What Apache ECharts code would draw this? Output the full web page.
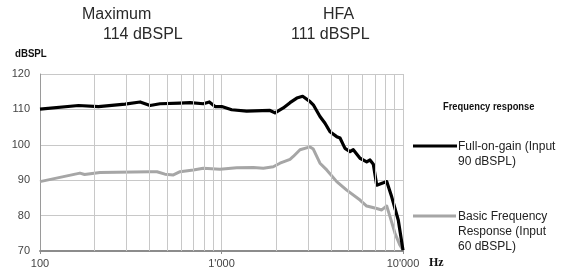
<!DOCTYPE html>
<html>
<head>
<meta charset="utf-8">
<script src="https://cdn.jsdelivr.net/npm/echarts@6/dist/echarts.min.js"></script>
<style>
  html, body { margin: 0; padding: 0; background: #fff; }
  #chart { width: 565px; height: 272px; }
</style>
</head>
<body>
<div id="chart"></div>
<script>
// Full-on-gain (Input 90 dBSPL)
const fullOnGainHz = [100, 163, 210, 294, 356, 404, 458, 590, 671, 794, 857, 921, 1003, 1138, 1376, 1850, 1971, 2190, 2385, 2600, 2800, 3074, 3204, 3488, 3718, 3961, 4313, 4497, 4791, 5105, 5323, 5797, 6310, 6579, 6862, 7165, 8135, 8299, 8663, 9035, 9421, 10000]
const fullOnGainDb = [110.1, 111.1, 110.8, 111.5, 112.1, 111.1, 111.6, 111.8, 111.9, 111.6, 112.1, 110.8, 110.8, 109.9, 109.5, 109.7, 109.0, 110.4, 111.9, 113.2, 113.7, 112.2, 111.3, 108.0, 106.1, 103.7, 102.3, 101.9, 99.0, 98.1, 98.6, 96.2, 95.2, 95.7, 94.5, 88.6, 89.6, 90.1, 85.3, 82.0, 78.7, 70.2]

// Basic Frequency Response (Input 60 dBSPL)
const basicHz = [100, 166, 176, 214, 404, 441, 488, 543, 591, 699, 794, 981, 1212, 1497, 1700, 1929, 2100, 2385, 2486, 2707, 3074, 3204, 3488, 3799, 4313, 4896, 5797, 6310, 7165, 7633, 8135, 8480, 9035, 9627, 10000]
const basicDb = [89.6, 92.0, 91.6, 92.2, 92.4, 92.4, 91.7, 91.5, 92.4, 92.9, 93.4, 93.1, 93.5, 93.6, 93.4, 93.8, 94.8, 95.9, 96.7, 98.6, 99.4, 98.8, 94.8, 92.9, 89.6, 87.2, 84.4, 82.7, 82.0, 81.6, 82.7, 79.7, 75.0, 71.6, 70.2]

// minor frequency grid lines
const minorHz = [200, 300, 400, 500, 600, 700, 800, 900, 2000, 3000, 4000, 5000, 6000, 7000, 8000, 9000]

const seriesNames = ['Full-on-gain (Input\n90 dBSPL)', 'Basic Frequency\nResponse (Input\n60 dBSPL)']
const headLabels = ['Maximum', '114 dBSPL', 'HFA', '111 dBSPL']

const pairs = (xs, ys) => xs.map((x, i) => [x, ys[i]])
const fmtHz = v => String(v).replace(/\B(?=(\d{3})+(?!\d))/g, "'")

const gridColor = '#c8c8c8'
const sans = 'Liberation Sans, Arial, sans-serif'

let myChart = echarts.init(document.getElementById('chart'), null, { renderer: 'canvas' })
let option = {
    animation: false,
    grid: { left: 40, right: 162, top: 74, bottom: 21 },
    xAxis: {
        type: 'log',
        logBase: 10,
        min: 100,
        max: 10000,
        axisLine: { lineStyle: { color: '#8c8c8c', width: 2 } },
        axisTick: { show: true, length: 3, lineStyle: { color: '#8c8c8c' } },
        splitLine: { show: true, lineStyle: { color: gridColor, width: 1 } },
        minorTick: { show: false },
        axisLabel: {
            margin: 7,
            color: '#444',
            fontFamily: sans,
            fontSize: 11,
            formatter: fmtHz
        }
    },
    yAxis: {
        type: 'value',
        min: 70,
        max: 120,
        interval: 10,
        axisLine: { show: true, lineStyle: { color: '#9a9a9a', width: 1 } },
        axisTick: { show: false },
        splitLine: { show: true, lineStyle: { color: gridColor, width: 1 } },
        axisLabel: { margin: 10, color: '#444', fontFamily: sans, fontSize: 11 }
    },
    series: [
        {
            name: 'grid',
            type: 'line',
            data: [],
            z: 1,
            silent: true,
            markLine: {
                silent: true,
                symbol: 'none',
                label: { show: false },
                lineStyle: { color: gridColor, width: 1, type: 'solid' },
                emphasis: { disabled: true },
                data: minorHz.map(v => ({ xAxis: v }))
            }
        },
        {
            name: seriesNames[1],
            type: 'line',
            z: 3,
            symbol: 'none',
            lineStyle: { color: '#a6a6a6', width: 3, join: 'round' },
            data: pairs(basicHz, basicDb)
        },
        {
            name: seriesNames[0],
            type: 'line',
            z: 4,
            symbol: 'none',
            lineStyle: { color: '#000', width: 3.2, join: 'round' },
            data: pairs(fullOnGainHz, fullOnGainDb)
        }
    ],
    graphic: [
        { type: 'text', left: 82, top: 7, style: { text: headLabels[0], font: '16px ' + sans, fill: '#2a2a2a' } },
        { type: 'text', left: 103, top: 27, style: { text: headLabels[1], font: '16px ' + sans, fill: '#2a2a2a' } },
        { type: 'text', left: 323, top: 7, style: { text: headLabels[2], font: '16px ' + sans, fill: '#2a2a2a' } },
        { type: 'text', left: 291, top: 27, style: { text: headLabels[3], font: '16px ' + sans, fill: '#2a2a2a' } },
        { type: 'text', x: 15, y: 48, scaleX: 0.88, style: { text: 'dBSPL', font: 'bold 11px ' + sans, fill: '#111' } },
        { type: 'text', left: 429, top: 257, style: { text: 'Hz', font: 'bold 12px Liberation Serif, serif', fill: '#111' } },
        { type: 'text', x: 443, y: 101, scaleX: 0.85, style: { text: 'Frequency response', font: 'bold 11px ' + sans, fill: '#111' } },
        { type: 'line', shape: { x1: 413, y1: 146, x2: 457, y2: 146 }, style: { stroke: '#000', lineWidth: 3 } },
        { type: 'text', left: 458, top: 139, style: { text: seriesNames[0], font: '12px ' + sans, fill: '#222', lineHeight: 15 } },
        { type: 'line', shape: { x1: 413, y1: 216, x2: 456, y2: 216 }, style: { stroke: '#a6a6a6', lineWidth: 3 } },
        { type: 'text', left: 458, top: 209, style: { text: seriesNames[1], font: '12px ' + sans, fill: '#222', lineHeight: 15 } }
    ]
}
myChart.setOption(option)
</script>
</body>
</html>
